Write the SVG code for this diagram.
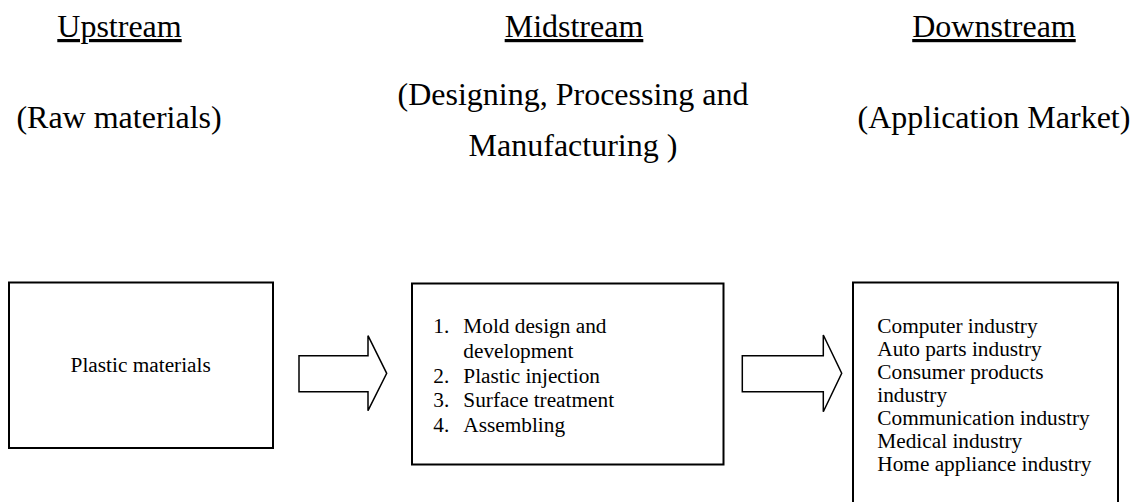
<svg xmlns="http://www.w3.org/2000/svg" width="1134" height="502" viewBox="0 0 1134 502">
<style>
text{font-family:"Liberation Serif","Times New Roman",serif;fill:#000}
.h{font-size:32px;text-anchor:middle}
.u{text-decoration:underline}
.b{font-size:21.3px}
.box{fill:#fff;stroke:#000;stroke-width:2}
.arr{fill:#fff;stroke:#000;stroke-width:1.5;stroke-linejoin:miter}
</style>
<g id="headings">
<text class="h u" x="119.5" y="37">Upstream</text>
<text class="h" x="119" y="128">(Raw materials)</text>
<text class="h u" x="574" y="37">Midstream</text>
<text class="h" x="573" y="105">(Designing, Processing and</text>
<text class="h" x="573" y="156">Manufacturing )</text>
<text class="h u" x="994" y="37">Downstream</text>
<text class="h" x="994" y="128">(Application Market)</text>
</g>
<g id="upstream">
<rect class="box" x="9" y="282.5" width="264" height="165.5"/>
<text class="b" x="140.7" y="371.7" text-anchor="middle">Plastic materials</text>
</g>
<g id="midstream">
<rect class="box" x="412" y="283.5" width="311.5" height="181"/>
<text class="b" x="433.3" y="333.4">1.</text>
<text class="b" x="463.3" y="333.4">Mold design and</text>
<text class="b" x="463.3" y="358">development</text>
<text class="b" x="433.3" y="382.6">2.</text>
<text class="b" x="463.3" y="382.6">Plastic injection</text>
<text class="b" x="433.3" y="407.2">3.</text>
<text class="b" x="463.3" y="407.2">Surface treatment</text>
<text class="b" x="433.3" y="431.8">4.</text>
<text class="b" x="463.3" y="431.8">Assembling</text>
</g>
<g id="downstream">
<rect class="box" x="853" y="282.5" width="265" height="230"/>
<text class="b" x="877.3" y="333">Computer industry</text>
<text class="b" x="877.3" y="356.1">Auto parts industry</text>
<text class="b" x="877.3" y="379.1">Consumer products</text>
<text class="b" x="877.3" y="402.2">industry</text>
<text class="b" x="877.3" y="425.3">Communication industry</text>
<text class="b" x="877.3" y="448.4">Medical industry</text>
<text class="b" x="877.3" y="471.4">Home appliance industry</text>
</g>
<g id="connectors">
<path class="arr" d="M299,355.7 H368 V335.7 L386.7,373.3 L368,410.7 V391.7 H299 Z"/>
<path class="arr" d="M742.3,355.7 H823.3 V335 L841.7,373.3 L823.3,411.7 V391.7 H742.3 Z"/>
</g>
</svg>
